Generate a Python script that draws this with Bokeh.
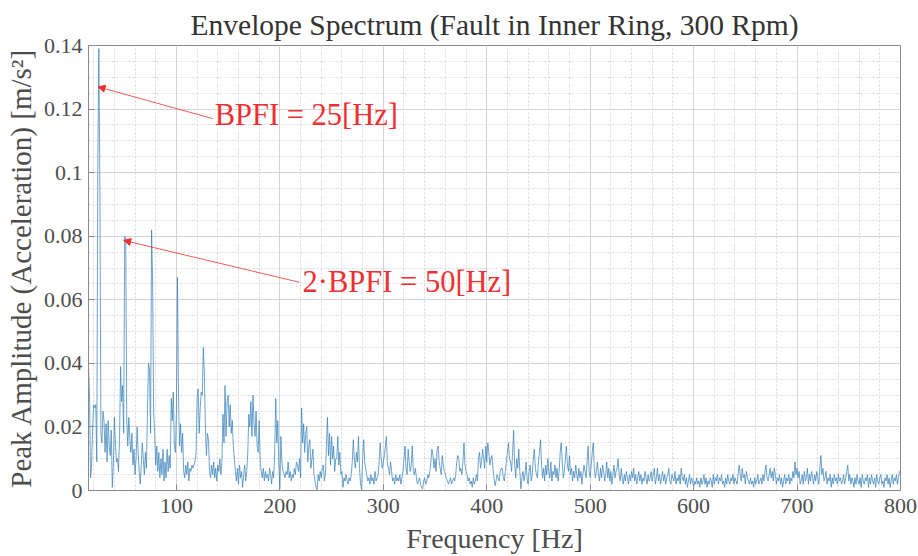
import numpy as np
from bokeh.plotting import figure
from bokeh.models import (Range1d, FixedTicker, Arrow, NormalHead,
                          Label, ColumnDataSource)
from bokeh.embed import file_html
from bokeh.resources import INLINE

# ---------------- data ----------------
freq_start_hz = 15          # first spectral line shown
freq_step_hz = 1            # spectral resolution
# peak amplitude in thousandths of m/s^2, one value per Hz from 15 Hz to 800 Hz
amp_milli = [
    39, 30, 4, 8, 20, 27, 26, 27, 9, 102,
    139, 95, 18, 15, 25, 22, 12, 21, 9, 22,
    14, 11, 19, 1, 8, 23, 15, 9, 10, 6,
    16, 39, 28, 33, 18, 80, 79, 22, 14, 23,
    16, 12, 18, 8, 13, 5, 10, 20, 12, 6,
    2, 8, 15, 10, 5, 12, 7, 25, 40, 38,
    18, 82, 65, 24, 18, 8, 14, 6, 12, 4,
    10, 5, 13, 3, 9, 4, 13, 6, 11, 7,
    29, 22, 31, 14, 12, 25, 67, 30, 14, 21,
    12, 18, 6, 4, 8, 5, 9, 3, 7, 6,
    8, 7, 8, 9, 12, 29, 32, 18, 26, 31,
    30, 45, 37, 20, 11, 18, 16, 6, 4, 8,
    5, 9, 4, 7, 3, 8, 6, 10, 5, 9,
    24, 15, 33, 17, 28, 30, 20, 27, 18, 22,
    14, 10, 6, 3, 7, 2, 8, 4, 6, 1,
    5, 8, 3, 6, 12, 24, 20, 28, 17, 30,
    21, 17, 25, 14, 12, 22, 9, 6, 4, 7,
    3, 6, 4, 5, 3, 7, 5, 2, 6, 4,
    12, 29, 15, 22, 8, 0.5, 17, 9, 6, 5,
    4, 6, 5, 9, 4, 6, 3, 5, 4, 7,
    5, 9, 8, 6, 10, 4, 26, 15, 21, 12,
    18, 20, 9, 14, 16, 7, 10, 13, 5, 3,
    1, 0.3, 5, 3, 6, 4, 7, 8, 3, 5,
    14, 23, 11, 18, 8, 17, 10, 14, 6, 10,
    10, 17, 8, 12, 5, 6, 1, 4, 3, 5,
    3, 2, 4, 3, 5, 9, 16, 10, 7, 12,
    9, 17, 7, 2, 0.3, 10, 16, 9, 7, 5,
    3, 4, 2, 5, 3, 4, 2, 6, 3, 4,
    5, 9, 15, 10, 7, 9, 11, 14, 17, 8,
    7, 5, 9, 6, 3, 4, 2, 5, 3, 4,
    3, 5, 2, 4, 6, 10, 14, 7, 5, 13,
    9, 6, 8, 14, 6, 5, 7, 4, 2, 3,
    4, 2, 1, 0.5, 3, 4, 2, 3, 5, 4,
    6, 9, 13, 11, 7, 10, 6, 13, 14, 9,
    7, 5, 11, 8, 6, 5, 4, 3, 2, 3,
    4, 2, 3, 4, 3, 5, 9, 11, 10, 6,
    7, 5, 9, 15, 8, 6, 5, 3, 4, 2,
    3, 1, 4, 2, 3, 5, 3, 10, 12, 7,
    9, 13, 10, 7, 14, 9, 15, 12, 8, 10,
    11, 7, 4, 1.5, 3, 5, 4, 3, 6, 7,
    7, 4, 3, 6, 9, 12, 15, 10, 9, 6,
    12, 19, 8, 4, 10, 7, 13, 6, 0.5, 4,
    6, 3, 5, 9, 4, 2, 6, 8, 3, 5,
    10, 13, 7, 5, 4, 9, 12, 16, 8, 4,
    7, 3, 8, 5, 10, 6, 4, 9, 3, 6,
    5, 8, 4, 7, 3, 6, 12, 15, 9, 4,
    6, 10, 14, 8, 6, 11, 5, 7, 3, 6,
    4, 8, 5, 3, 7, 4, 6, 2, 5, 8,
    6, 4, 9, 14, 6, 4, 8, 12, 15, 7,
    4, 6, 9, 5, 3, 7, 4, 8, 6, 3,
    5, 9, 4, 7, 3, 6, 2, 5, 8, 4,
    6, 7, 10, 5, 3, 7, 4, 2, 5, 3,
    6, 4, 2, 5, 3, 6, 4, 7, 3, 5,
    2, 4, 6, 3, 5, 2, 4, 3, 6, 4,
    2, 5, 3, 4, 6, 3, 5, 7, 2, 4,
    7, 3, 5, 2, 4, 6, 3, 5, 2, 4,
    5, 7, 3, 2, 5, 4, 3, 6, 2, 4,
    3, 5, 2, 7, 4, 3, 5, 2, 4, 1,
    3, 5, 2, 4, 3, 1, 3, 2, 4, 2,
    3, 1, 4, 2, 3, 5, 2, 4, 1, 3,
    2, 4, 3, 1, 5, 2, 4, 3, 5, 2,
    4, 3, 5, 2, 3, 1, 4, 2, 5, 3,
    2, 4, 3, 5, 2, 4, 3, 2, 5, 8,
    5, 3, 7, 4, 5, 2, 6, 4, 3, 2,
    4, 2, 3, 1, 4, 2, 3, 5, 2, 3,
    4, 2, 5, 3, 6, 8, 4, 3, 5, 7,
    4, 6, 3, 7, 5, 2, 4, 3, 5, 2,
    4, 1, 3, 5, 2, 4, 3, 5, 2, 4,
    3, 6, 4, 9, 5, 7, 4, 6, 2, 3,
    5, 2, 6, 3, 4, 7, 2, 5, 3, 6,
    4, 2, 5, 3, 6, 4, 2, 7, 11, 5,
    7, 3, 4, 6, 2, 4, 3, 5, 1, 4,
    2, 5, 3, 4, 2, 5, 3, 4, 2, 3,
    5, 2, 4, 6, 8, 3, 5, 2, 4, 3,
    1, 4, 2, 5, 3, 2, 4, 1, 5, 3,
    2, 4, 3, 5, 1, 4, 2, 5, 3, 2,
    4, 1, 5, 3, 2, 4, 5, 2, 3, 1,
    4, 3, 5, 2, 4, 1, 3, 5, 2, 4,
    3, 5, 2, 4, 6, 6,
]
x_ticks = [100, 200, 300, 400, 500, 600, 700, 800]
x_minor = list(range(20, 801, 20))
y_ticks = [0, 0.02, 0.04, 0.06, 0.08, 0.1, 0.12, 0.14]
y_minor = [round(0.005 * k, 3) for k in range(0, 29)]
bpfi_hz = 25
x_lim = (15, 800)
y_lim = (0, 0.14)

freq = freq_start_hz + freq_step_hz * np.arange(len(amp_milli))
amp = np.array(amp_milli, dtype=float) / 1000.0
src = ColumnDataSource(dict(f=freq, a=amp))

SERIF = "Liberation Serif"
TXT = "#4d4d4d"
GRID = "#d2d4d8"
AXC = "#8a8a8a"

p = figure(width=918, height=556, output_backend="svg", toolbar_location=None,
           x_range=Range1d(*x_lim), y_range=Range1d(*y_lim),
           min_border_left=88, min_border_right=18, min_border_top=45,
           min_border_bottom=66, background_fill_color="white",
           border_fill_color="white")

p.title.text = "Envelope Spectrum (Fault in Inner Ring, 300 Rpm)"
p.title.text_font = SERIF
p.title.text_font_size = "29.5px"
p.title.text_font_style = "normal"
p.title.text_color = "#333333"
p.title.align = "center"
p.title.offset = 0
p.title.standoff = 9

p.outline_line_color = AXC
p.outline_line_width = 1

p.line("f", "a", source=src, line_color="#3580ba", line_width=0.8, line_alpha=0.9)

# grids
p.xgrid.ticker = FixedTicker(ticks=x_ticks, minor_ticks=x_minor)
p.ygrid.ticker = FixedTicker(ticks=y_ticks, minor_ticks=y_minor)
for g in (p.xgrid, p.ygrid):
    g.grid_line_color = GRID
    g.grid_line_width = 1
    g.minor_grid_line_color = "#cfcfcf"
    g.minor_grid_line_dash = "2 2"
    g.minor_grid_line_width = 0.8

def style_axis(ax):
    ax.axis_line_color = AXC
    ax.major_tick_line_color = AXC
    ax.major_tick_in = 6
    ax.major_tick_out = 0
    ax.minor_tick_in = 0
    ax.minor_tick_out = 0
    ax.major_label_text_font = SERIF
    ax.major_label_text_font_size = "22px"
    ax.major_label_text_color = TXT
    ax.axis_label_text_font = SERIF
    ax.axis_label_text_font_style = "normal"
    ax.axis_label_text_color = TXT

xa = p.xaxis[0]
ya = p.yaxis[0]
xa.ticker = FixedTicker(ticks=x_ticks)
ya.ticker = FixedTicker(ticks=y_ticks)
xa.major_label_overrides = {t: f"{t:g}" for t in x_ticks}
ya.major_label_overrides = {t: f"{t:g}" for t in y_ticks}
style_axis(xa)
style_axis(ya)
xa.axis_label = "Frequency [Hz]"
ya.axis_label = "Peak Amplitude (Acceleration) [m/s\u00b2]"
xa.axis_label_text_font_size = "28px"
ya.axis_label_text_font_size = "29px"
xa.major_label_standoff = 8
ya.major_label_standoff = 6
xa.axis_label_standoff = 7
ya.axis_label_standoff = 4

# annotations
RED = "#f03030"
i1 = int(np.argmax(amp))
mask2 = (freq > 1.5 * bpfi_hz) & (freq < 2.5 * bpfi_hz)
i2 = int(np.where(mask2)[0][np.argmax(amp[mask2])])

p.add_layout(Arrow(end=NormalHead(size=7, fill_color=RED, line_color=RED),
                   x_start=135, y_start=0.117, x_end=freq[i1] - 0.8, y_end=0.127,
                   line_color=RED, line_width=0.8))
p.add_layout(Arrow(end=NormalHead(size=7, fill_color=RED, line_color=RED),
                   x_start=219, y_start=0.0655, x_end=freq[i2] - 1.0, y_end=0.0787,
                   line_color=RED, line_width=0.8))
p.add_layout(Label(x=137, y=0.118, text="BPFI = 25[Hz]", text_font=SERIF,
                   text_font_size="30.5px", text_color=RED, text_baseline="middle"))
p.add_layout(Label(x=222, y=0.0655, text="2\u00b7BPFI = 50[Hz]", text_font=SERIF,
                   text_font_size="30.5px", text_color=RED, text_baseline="middle"))

open("out.html", "w").write(file_html(p, INLINE))
